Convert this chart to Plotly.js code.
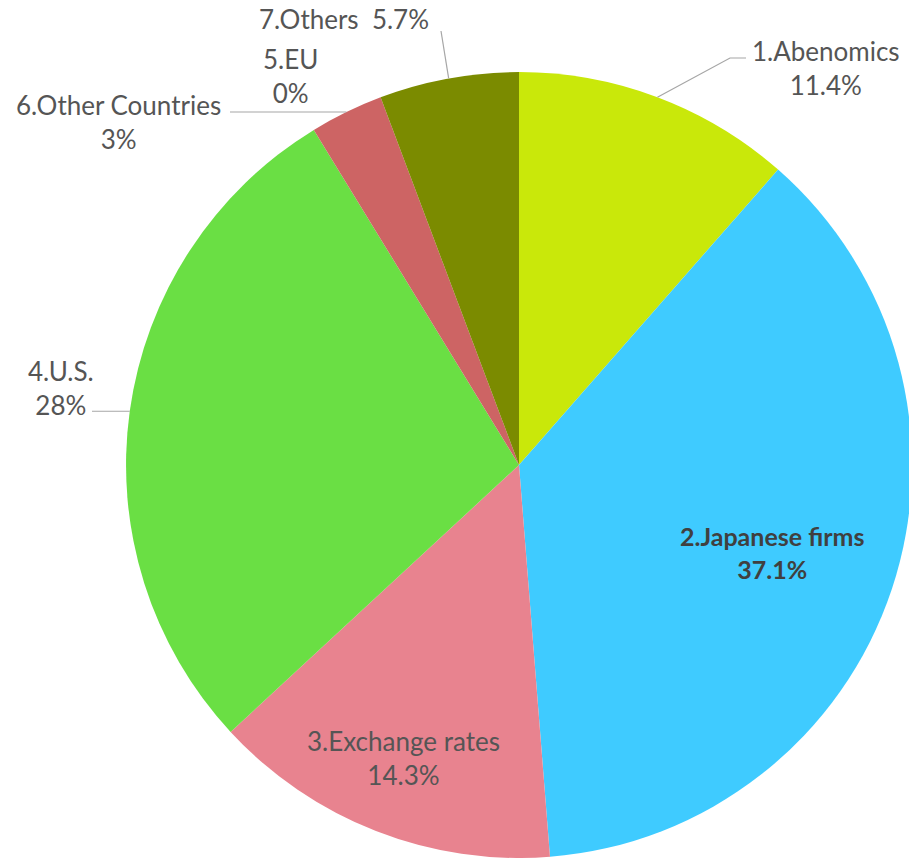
<!DOCTYPE html>
<html>
<head>
<meta charset="utf-8">
<script src="https://cdn.plot.ly/plotly-3.0.1.min.js"></script>
<style>html,body{margin:0;padding:0;background:#fff;overflow:hidden}#chart{width:912px;height:858px}</style>
</head>
<body>
<div id="chart"></div>
<script>
// ---- data ----
var categories = ["1.Abenomics", "2.Japanese firms", "3.Exchange rates", "4.U.S.", "5.EU", "6.Other Countries", "7.Others"];
var values = [11.4, 37.1, 14.3, 28, 0, 3, 5.7];
var valueLabels = ["11.4%", "37.1%", "14.3%", "28%", "0%", "3%", "5.7%"];
var colors = ["#C9E80A", "#3FCBFF", "#E8838F", "#6ADF44", "#4472C4", "#CD6464", "#7B8B00"];

// ---- layout geometry ----
var W = 912, H = 858;
var dom = {x: [126 / 912, 1.0], y: [0.0, 0.916]};
var cx = (dom.x[0] + dom.x[1]) / 2 * W;
var cy = H - (dom.y[0] + dom.y[1]) / 2 * H;
var R = Math.min((dom.x[1] - dom.x[0]) * W, (dom.y[1] - dom.y[0]) * H) / 2;

var total = values.reduce(function(a, b){ return a + b; }, 0);
function anchor(i) {
  var cum = 0;
  for (var k = 0; k < i; k++) cum += values[k];
  var mid = (cum + values[i] / 2) / total * 2 * Math.PI;
  return [cx + R * Math.sin(mid), cy - R * Math.cos(mid)];
}
function px(x) { return x / W; }
function py(y) { return 1 - y / H; }

// label placement (page pixels): text centre, optional leader path points
var place = [
  {t: [826, 68], line: [[730, 58], [746, 58]]},
  {t: [772, 552], inside: true, bold: true},
  {t: [403, 758], inside: true},
  {t: [61, 388], line: [[92, null]]},
  {t: [290, 76]},
  {t: [119, 122], line: [[230, null]]},
  {t: [344, 19], oneLine: true, line: [[441, 31]]}
];

var annotations = [], shapes = [];
categories.forEach(function(c, i) {
  var p = place[i];
  var txt = p.oneLine ? c + "&nbsp;&nbsp;" + valueLabels[i] : c + "<br>" + valueLabels[i];
  if (p.bold) txt = "<b>" + txt.replace("<br>", "</b><br><b>") + "</b>";
  annotations.push({
    x: px(p.t[0]), y: py(p.t[1]), xref: "paper", yref: "paper",
    xanchor: "center", yanchor: "middle", align: "center",
    text: txt, showarrow: false,
    font: {family: "Lato, 'Open Sans', sans-serif", size: p.bold ? 25 : 26, color: p.bold ? "#404040" : "#555555"}
  });
  if (p.line) {
    var a = anchor(i);
    var path = "M" + px(a[0]) + "," + py(a[1]);
    p.line.forEach(function(q) {
      var yy = q[1] === null ? a[1] : q[1];
      path += " L" + px(q[0]) + "," + py(yy);
    });
    shapes.push({type: "path", xref: "paper", yref: "paper", path: path,
      line: {color: "#A6A6A6", width: 1.2}});
  }
});

var trace = {
  type: "pie",
  labels: categories,
  values: values,
  marker: {colors: colors, line: {width: 0}},
  sort: false,
  direction: "clockwise",
  rotation: 0,
  textinfo: "none",
  hoverinfo: "label+percent",
  domain: dom,
  showlegend: false
};

Plotly.newPlot("chart", [trace], {
  width: W, height: H,
  margin: {l: 0, r: 0, t: 0, b: 0},
  paper_bgcolor: "#ffffff",
  showlegend: false,
  annotations: annotations,
  shapes: shapes
}, {displayModeBar: false, staticPlot: true});
</script>
</body>
</html>
